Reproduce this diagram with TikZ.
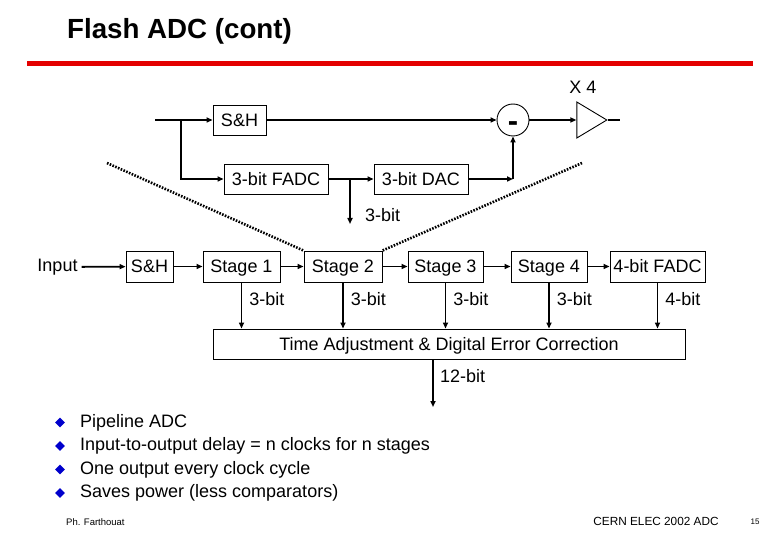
\documentclass[tikz,border=0pt]{standalone}
\usepackage{fontspec}
\setmainfont{Liberation Sans}
\usetikzlibrary{
  arrows.meta,
  shapes.geometric,
  positioning,
  calc
}
\definecolor{slRed}{HTML}{E40000}
\definecolor{slBlue}{HTML}{0000CC}

\begin{document}
\begin{tikzpicture}[x=1pt, y=-1pt,
  lbl/.style={font=\fontsize{18}{21}\selectfont, inner sep=0pt},
  blk/.style={draw, line width=0.9pt, minimum height=30pt, inner sep=0pt, text height=13pt, text depth=0pt,
              font=\fontsize{18}{21}\selectfont},
  sig/.style={line width=1.8pt, -{Triangle[length=6pt, width=5pt]}},
  wire/.style={line width=1.8pt},
  dots/.style={line width=2.6pt, dash pattern=on 1.6pt off 1.4pt}]
  \useasboundingbox (0,0) rectangle (780,540);
  \fill[white] (0,0) rectangle (780,540);

  \node[anchor=west, inner sep=0pt, font=\bfseries\fontsize{27.7}{32}\selectfont] (title) at (67,31) {Flash ADC (cont)};
  \draw[slRed, line width=5pt] (27,63.5) -- (753,63.5);

  % one stage, in detail
  \coordinate (in0) at (155,120);
  \coordinate (br0) at (181,120);
  \node[blk, minimum width=53pt] (sh0) at (239.5,120) {S\&H};
  \node[blk, minimum width=104pt] (fadc3) at (276,179) {3-bit FADC};
  \node[blk, minimum width=94pt] (dac3) at (421,179) {3-bit DAC};
  \node[circle, draw, line width=0.9pt, minimum size=32pt, inner sep=0pt, text height=23pt, text depth=0pt,
        font=\bfseries\fontsize{31}{33}\selectfont] (sub) at (513,120) {-};
  \node[isosceles triangle, isosceles triangle stretches, shape border rotate=0, draw, line width=0.9pt,
        minimum width=36pt, minimum height=30pt, inner sep=0pt] (amp) at (587,120) {};
  \node[lbl, font=\fontsize{18}{20}\selectfont] (gain) at (583,87) {X 4};
  \coordinate (out0) at (620,120);
  \coordinate (br1) at (350,179);
  \coordinate (bit0) at (350,224);
  \coordinate (cnr) at (513,179);
  \node[lbl, anchor=west] (bitlab0) at (365,215) {3-bit};

  \draw[sig] (in0) -- (sh0);
  \draw[sig] (sh0) -- (sub);
  \draw[sig] (br0) |- (fadc3);
  \draw[sig] (fadc3) -- (dac3);
  \draw[sig] (br1) -- (bit0);
  \draw[sig] (dac3) -- (cnr);
  \draw[sig] (cnr) -- (sub);
  \draw[sig] (sub) -- (amp);
  \draw[wire] (amp.apex) -- (out0);

  % pipeline
  \node[lbl] (inp) at (57.5,267) {Input};
  \foreach \nm/\cx/\w/\txt in {
    sh1/149.5/47/{S\&H},
    st1/241.5/77/{Stage 1},
    st2/343/78/{Stage 2},
    st3/445.5/75/{Stage 3},
    st4/549/76/{Stage 4},
    fadc4/657.5/95/{4-bit FADC}}{
    \node[blk, minimum width=\w pt, minimum height=31pt] (\nm) at (\cx,266.5) {\txt};
  }
  \draw[sig, shorten <=4pt] (inp) -- (sh1);
  \foreach \a/\b in {sh1/st1, st1/st2, st2/st3, st3/st4, st4/fadc4}{
    \draw[sig] (\a) -- (\b);
  }

  \coordinate (dl) at (107,163);
  \coordinate (dr) at (582,163);
  \draw[dots] (dl) -- (st2.north west);
  \draw[dots] (dr) -- (st2.north east);

  \node[blk, minimum width=472pt] (tadc) at (449,344) {Time Adjustment \& Digital Error Correction};
  \foreach \nm/\bits in {st1/3-bit, st2/3-bit, st3/3-bit, st4/3-bit, fadc4/4-bit}{
    \draw[sig] (\nm.south) -- (\nm.south |- tadc.north)
      node[lbl, pos=0.36, anchor=west, xshift=7pt] (\nm-bits) {\bits};
  }
  \coordinate (dout) at (433,407);
  \draw[sig] (dout |- tadc.south) -- (dout);
  \node[lbl, anchor=west] (outbits) at (440,376) {12-bit};

  % remarks
  \foreach \txt [count=\i] in {
    Pipeline ADC,
    Input-to-output delay = n clocks for n stages,
    One output every clock cycle,
    Saves power (less comparators)}{
    \pgfmathsetmacro{\yy}{399+23.5*\i}
    \node[diamond, fill=slBlue, minimum size=10pt, inner sep=0pt] (dia\i) at (60,\yy) {};
    \node[anchor=west, inner sep=0pt, font=\fontsize{18}{20}\selectfont] (pt\i) at (80,\yy) {\txt};
  }

  \node[anchor=west, inner sep=0pt, font=\fontsize{9.5}{11}\selectfont] (auth) at (66,522) {Ph. Farthouat};
  \node[inner sep=0pt, font=\fontsize{11.8}{14}\selectfont] (conf) at (656,521) {CERN ELEC 2002 ADC};
  \node[inner sep=0pt, font=\fontsize{8}{10}\selectfont] (pg) at (755,522) {15};
\end{tikzpicture}
\end{document}
